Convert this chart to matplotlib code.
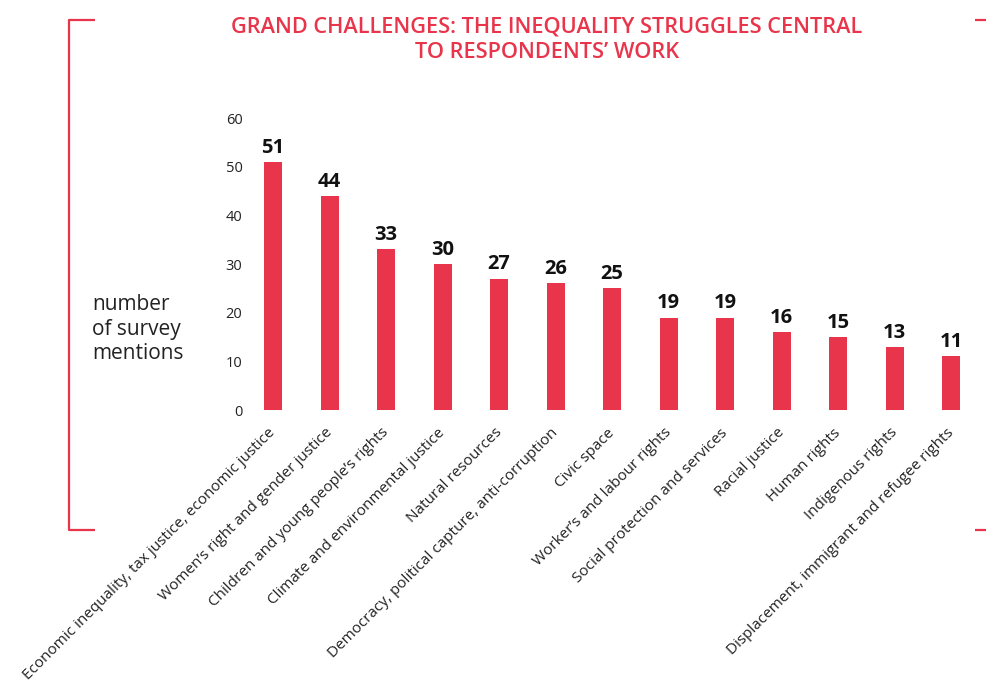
import matplotlib.pyplot as plt
from matplotlib.lines import Line2D
from matplotlib.transforms import ScaledTranslation

categories = [
    'Economic inequality, tax justice, economic justice',
    'Women\u2019s right and gender justice',
    'Children and young people\u2019s rights',
    'Climate and environmental justice',
    'Natural resources',
    'Democracy, political capture, anti-corruption',
    'Civic space',
    'Worker\u2019s and labour rights',
    'Social protection and services',
    'Racial justice',
    'Human rights',
    'Indigenous rights',
    'Displacement, immigrant and refugee rights',
]
mentions = [51, 44, 33, 30, 27, 26, 25, 19, 19, 16, 15, 13, 11]
yticks = [0, 10, 20, 30, 40, 50, 60]

red = '#e8354b'
plt.rcParams['font.family'] = ['Open Sans', 'DejaVu Sans']

W, H = 987, 689
fig = plt.figure(figsize=(W / 100, H / 100), dpi=100)
ax = fig.add_axes([255 / W, 1 - 410 / H, 720 / W, 292 / H])

x = list(range(len(categories)))
ax.bar(x, mentions, width=0.32, color=red)
for xi, v in zip(x, mentions):
    ax.annotate(str(v), (xi, v), xytext=(0, 3), textcoords='offset points',
                ha='center', va='bottom', fontsize=14.5, fontweight='bold', color='#111111')

ax.set_xlim(-0.32, -0.32 + 720 / 56.5)
ax.set_ylim(0, 60)
ax.set_yticks(yticks)
ax.set_yticklabels([str(t) for t in yticks], fontsize=10.5, color='#222222')
ax.set_xticks(x)
ax.set_xticklabels(categories, rotation=45, ha='right', va='top',
                   rotation_mode='anchor', fontsize=11, color='#222222')
ax.tick_params(length=0, axis='y', pad=9)
ax.tick_params(length=0, axis='x', pad=11)
shift = ScaledTranslation(-5 / 100, 0, fig.dpi_scale_trans)
for lbl in ax.get_xticklabels():
    lbl.set_transform(lbl.get_transform() + shift)
for s in ax.spines.values():
    s.set_visible(False)

fig.text(92 / W, 1 - 329 / H, 'number\nof survey\nmentions', ha='left', va='center',
         fontsize=15, color='#222222', linespacing=1.2)

title_font = ['Liberation Sans Narrow', 'Open Sans']
fig.text(547 / W, 1 - 27 / H, 'GRAND CHALLENGES: THE INEQUALITY STRUGGLES CENTRAL',
         ha='center', va='center', fontsize=15.7, fontweight='semibold', color=red,
         family=title_font)
fig.text(547 / W, 1 - 53 / H, 'TO RESPONDENTS\u2019 WORK',
         ha='center', va='center', fontsize=15.7, fontweight='semibold', color=red,
         family=title_font)

# bracket frame
def fline(xs, ys):
    fig.add_artist(Line2D([a / W for a in xs], [1 - b / H for b in ys],
                          color=red, lw=1.6, solid_capstyle='butt'))

fline([95, 69, 69, 95], [20, 20, 530, 530])
fline([975, 987], [20, 20])
fline([975, 987], [530, 530])

fig.savefig('out.png', dpi=100)
